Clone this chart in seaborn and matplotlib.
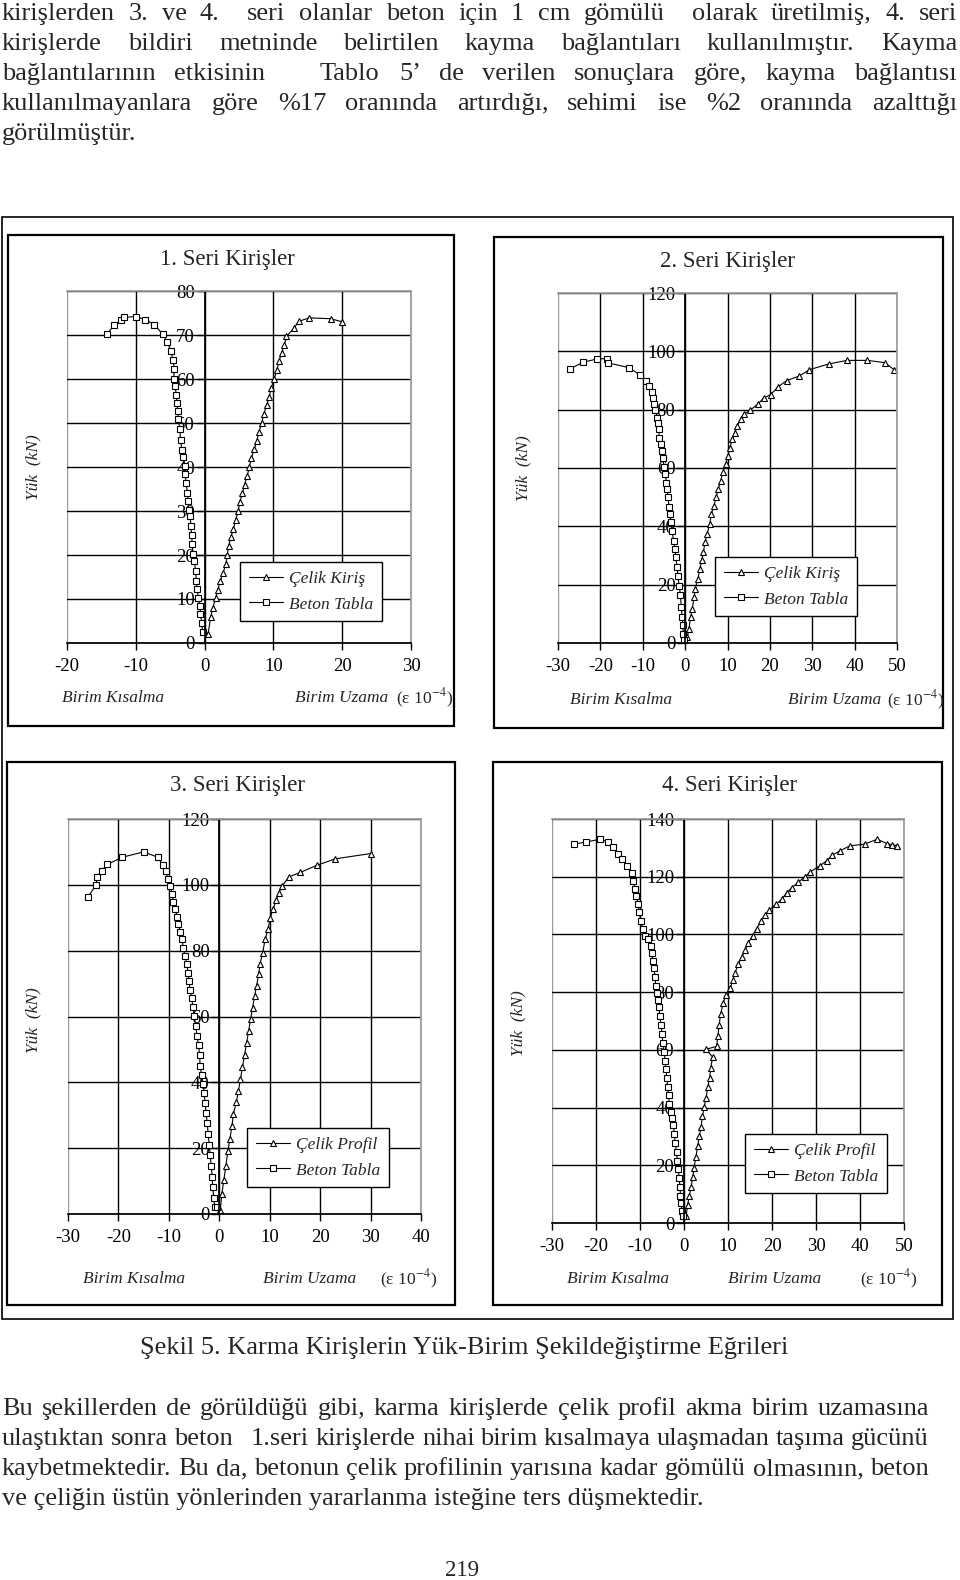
import matplotlib
matplotlib.use("Agg")
import matplotlib.pyplot as plt
import seaborn as sns
from matplotlib.patches import Rectangle

# ── Data (strain x 1e-4, load kN) ─────────────────────────────────────────
p1_celik_x = [0.5, 0.9, 1.2, 1.6, 1.9, 2.3, 2.7, 3.1, 3.3, 3.5, 3.8, 4.2, 4.5, 4.9, 5.1, 5.5, 5.8, 6.2, 6.5,
              6.8, 7.2, 7.6, 7.9, 8.3, 8.6, 9.0, 9.4, 9.7, 10.1, 10.5, 10.8, 11.2, 11.6, 11.9, 13.0,
              13.7, 15.2, 18.3, 20.0]
p1_celik_y = [2, 6, 8, 10.2, 12, 14.2, 16, 18, 20, 22, 24, 26, 28, 30, 32, 34, 36, 38, 40, 42, 44, 46, 48,
              50, 52, 54, 56, 58, 60, 62, 64, 66, 67.8, 69.7, 71.6, 73.1, 73.9, 73.7, 73.0]
p1_beton_x = [-14.2, -13.1, -12.2, -11.7, -10.0, -8.6, -7.3, -6.1, -5.4, -4.9, -4.6, -4.4, -4.5, -4.3,
              -4.1, -4.0, -3.9, -3.8, -3.6, -3.5, -3.3, -3.1, -2.9, -2.8, -2.7, -2.5, -2.4, -2.3, -2.1,
              -2.0, -1.9, -1.8, -1.7, -1.5, -1.3, -1.2, -1.1, -0.9, -0.7, -0.6, -0.4, -0.3]
p1_beton_y = [70.2, 72.3, 73.3, 74.0, 74.2, 73.5, 72.3, 70.2, 68.3, 66.4, 64.4, 62.3, 60.0, 58.3, 56.4,
              54.5, 52.7, 50.8, 48.6, 46.2, 43.9, 42.3, 40.2, 38.3, 36.4, 34.2, 32.2, 30.3, 28.8, 26.7,
              24.6, 22.6, 20.2, 18.6, 16.3, 14.2, 12.3, 10.2, 8.3, 6.6, 4.5, 2.4]

p2_celik_x = [0.5, 0.9, 1.3, 1.7, 2.1, 2.4, 3.0, 3.5, 3.9, 4.3, 4.7, 5.2, 5.8, 6.2, 6.8, 7.3, 7.8, 8.4,
              8.9, 9.6, 10.1, 10.6, 11.1, 11.7, 12.3, 13.1, 13.9, 15.3, 17.1, 18.5, 20.2, 22.0, 24.0,
              26.9, 29.3, 34.0, 38.2, 43.0, 47.2, 49.3]
p2_celik_y = [2, 4.9, 8.9, 11.7, 15.7, 18.6, 22, 25.4, 28.3, 31.1, 34.5, 37.4, 40.8, 44.2, 47.1, 49.9,
              52.8, 55.6, 58.5, 61.5, 64.2, 67, 69.9, 72.1, 74.4, 76.7, 78.4, 79.8, 81.8, 83.9, 85.2,
              87.9, 90, 91.5, 93.7, 95.7, 96.9, 96.9, 96.1, 93.7]
p2_beton_x = [-27.2, -24.0, -20.7, -18.5, -18.1, -13.2, -10.6, -9.2, -8.5, -7.9, -7.6, -7.3, -7.0, -6.6,
              -6.5, -6.2, -6.1, -5.8, -5.5, -5.3, -4.9, -4.7, -4.4, -4.3, -4.0, -3.8, -3.6, -3.3, -3.1,
              -2.7, -2.4, -2.2, -1.9, -1.7, -1.4, -1.1, -0.9, -0.7, -0.6, -0.4, -0.2]
p2_beton_y = [94.0, 96.3, 97.4, 97.5, 96.0, 94.4, 91.8, 90.0, 88.0, 86.2, 84.1, 81.8, 79.8, 77.3, 75.6,
              73.3, 70.4, 68.1, 65.9, 63.4, 60.2, 57.9, 55.0, 52.8, 49.9, 46.7, 44.2, 41.4, 38.5, 35.1,
              32.3, 29.4, 26.0, 22.8, 19.7, 16.3, 12.3, 8.9, 6.0, 3.2, 1.1]

p3_celik_x = [0.2, 0.5, 0.9, 1.3, 1.7, 2.1, 2.5, 2.8, 3.4, 3.8, 4.2, 4.6, 5.0, 5.4, 5.8, 6.2, 6.6, 7.0,
              7.4, 7.8, 8.1, 8.6, 9.1, 9.7, 10.1, 10.7, 11.3, 11.8, 12.5, 13.8, 16.1, 19.3, 23.0, 30.0]
p3_celik_y = [1.3, 6, 10.3, 14.6, 19, 22.8, 26.6, 30.4, 34.1, 37.4, 41, 44.7, 48.2, 51.8, 55.5, 59.1,
              62.7, 66.1, 69.4, 72.8, 76.1, 79.4, 83.5, 86.7, 90, 92.7, 95.4, 97.6, 99.7, 102.4, 103.8,
              105.9, 107.9, 109.5]
p3_beton_x = [-26.1, -24.4, -24.3, -23.3, -22.2, -19.2, -15.0, -12.2, -11.2, -10.6, -10.2, -9.7, -9.4,
              -9.1, -8.7, -8.4, -8.1, -7.7, -7.4, -7.1, -6.8, -6.4, -6.2, -6.0, -5.8, -5.5, -5.2, -5.0,
              -4.7, -4.4, -4.1, -3.9, -3.8, -3.5, -3.2, -3.0, -2.8, -2.6, -2.4, -2.2, -2.0, -1.8, -1.6,
              -1.4, -1.3, -1.1, -0.9, -0.5]
p3_beton_y = [96.2, 100, 102.4, 104.3, 106.2, 108.4, 110, 108.4, 106, 104.1, 101.9, 99.7, 97.3, 94.9,
              92.7, 90.3, 88, 85.6, 83.5, 80.8, 78.3, 75.9, 73.2, 70.7, 68.1, 65.6, 62.9, 60.2, 57.2,
              54.2, 51.2, 48.2, 45, 42.3, 39.6, 36.9, 33.6, 30.6, 27.6, 24.4, 21.1, 17.9, 14.6, 11.1,
              8.1, 4.9, 2.2, 2]

p4_celik_x = [0.5, 0.8, 1.2, 1.6, 2.0, 2.3, 2.7, 3.1, 3.5, 3.9, 4.2, 4.6, 5.0, 5.4, 5.8, 6.1, 6.5, 5.0,
              7.4, 7.7, 8.0, 8.3, 8.9, 9.5, 10.5, 11.1, 11.6, 12.3, 13.1, 13.9, 14.6, 15.6, 16.5, 17.4,
              18.4, 19.4, 20.9, 22.2, 23.3, 24.5, 26.0, 27.5, 28.6, 30.8, 32.4, 33.6, 35.5, 37.7, 41.1,
              43.9, 46.1, 47.2, 48.3]
p4_celik_y = [2.5, 6.2, 9.3, 12.4, 16.1, 19.2, 22.9, 26.6, 30.3, 33.4, 37.1, 40.2, 43.3, 47, 50.1, 53.8,
              57.5, 60.2, 61.2, 64.9, 68.6, 72.3, 76.1, 79.1, 81.3, 84.1, 86.6, 89.7, 92.1, 94.6, 97.1,
              99.6, 102, 104.5, 106.7, 108.6, 110.4, 112.2, 114.4, 116.2, 118.1, 120, 121.6, 123.7,
              125.5, 127.4, 129, 130.7, 131.3, 133, 131.5, 131.1, 130.8]
p4_beton_x = [-25.0, -22.3, -19.1, -17.2, -16.1, -15.1, -14.0, -12.9, -11.9, -11.5, -11.1, -10.8, -10.4,
              -10.2, -9.8, -9.4, -8.9, -8.1, -7.6, -7.3, -7.1, -6.8, -6.6, -6.4, -6.2, -5.8, -5.7, -5.5,
              -5.2, -5.0, -4.8, -4.5, -4.3, -4.1, -3.9, -3.7, -3.5, -3.3, -3.0, -2.7, -2.4, -2.2, -2.0,
              -1.7, -1.5, -1.3, -1.1, -0.9, -0.8, -0.6, -0.5, -0.3]
p4_beton_y = [131.3, 132, 133, 132, 130.2, 128, 126.1, 123.7, 121.2, 118.4, 115.6, 113.2, 110.4, 107.6,
              104.7, 102, 99.6, 98.3, 96.1, 93.6, 90.9, 88.2, 85.3, 82.2, 79.8, 77.3, 74.8, 71.7, 68.6,
              65.5, 62.5, 59.4, 56.3, 53.2, 50.1, 47, 44.2, 41.2, 38.3, 36.5, 34, 30.9, 27.8, 24.7, 21.6,
              18.6, 15.5, 12.4, 9.3, 6.8, 4.3, 2.5]

titles = ["1. Seri Kirişler", "2. Seri Kirişler", "3. Seri Kirişler", "4. Seri Kirişler"]
celik_labels = ["Çelik Kiriş", "Çelik Kiriş", "Çelik Profil", "Çelik Profil"]
beton_label = "Beton Tabla"
x_limits = [(-20, 30), (-30, 50), (-30, 40), (-30, 50)]
y_limits = [(0, 80), (0, 120), (0, 120), (0, 140)]
y_steps = [10, 20, 20, 20]

top_lines = [
    "kirişlerden 3. ve 4.  seri olanlar beton için 1 cm gömülü  olarak üretilmiş, 4. seri",
    "kirişlerde bildiri metninde belirtilen kayma bağlantıları kullanılmıştır. Kayma",
    "bağlantılarının etkisinin   Tablo 5’ de verilen sonuçlara göre, kayma bağlantısı",
    "kullanılmayanlara göre %17 oranında artırdığı, sehimi ise %2 oranında azalttığı",
    "görülmüştür.",
]
bottom_lines = [
    "Bu şekillerden de görüldüğü gibi, karma kirişlerde çelik profil akma birim uzamasına",
    "ulaştıktan sonra beton   1.seri kirişlerde nihai birim kısalmaya ulaşmadan taşıma gücünü",
    "kaybetmektedir. Bu da, betonun çelik profilinin yarısına kadar gömülü olmasının, beton",
    "ve çeliğin üstün yönlerinden yararlanma isteğine ters düşmektedir.",
]
caption = "Şekil 5. Karma Kirişlerin Yük-Birim Şekildeğiştirme Eğrileri"
page_no = "219"

# ── Page setup ─────────────────────────────────────────────────────────────
sns.set_theme(style="ticks")
plt.rcParams["font.family"] = ["Liberation Serif", "DejaVu Serif"]
plt.rcParams["mathtext.fontset"] = "stix"
plt.rcParams["axes.unicode_minus"] = False

W, H = 960, 1580
fig = plt.figure(figsize=(W / 100, H / 100), dpi=100)
fig.patch.set_facecolor("white")
renderer = fig.canvas.get_renderer()
BODY = 19


def fx(x):
    return x / W


def fy(y):
    return 1 - y / H


def box(x0, y0, x1, y1, lw):
    fig.add_artist(Rectangle((fx(x0), fy(y1)), (x1 - x0) / W, (y1 - y0) / H,
                             transform=fig.transFigure, fill=False, ec="black", lw=lw))


def para_line(line, x0, x1, base, size, justify):
    # one printed line; justified lines get their words spread to the right margin
    if not justify:
        fig.text(fx(x0), fy(base), line, fontsize=size, va="baseline", ha="left")
        return
    words = line.split(" ")
    widths = []
    arts = []
    for w in words:
        if w:
            t = fig.text(0, fy(base), w, fontsize=size, va="baseline", ha="left")
            widths.append(t.get_window_extent(renderer).width)
            arts.append(t)
        else:
            widths.append(0)
            arts.append(None)
    gap = (x1 - x0 - sum(widths)) / (len(words) - 1)
    x = x0
    for t, wd in zip(arts, widths):
        if t is not None:
            t.set_x(fx(round(x)))
        x += wd + gap


# ── Body text ─────────────────────────────────────────────────────────────
for i, line in enumerate(top_lines):
    para_line(line, 2, 957, 20 + 30 * i, BODY, i < len(top_lines) - 1)
for i, line in enumerate(bottom_lines):
    para_line(line, 2, 929, 1415 + 30 * i, BODY, i < len(bottom_lines) - 1)
fig.text(fx(464), fy(1354), caption, fontsize=BODY, ha="center", va="baseline")
fig.text(fx(462), fy(1576), page_no, fontsize=16.5, ha="center", va="baseline")

# ── Frames ────────────────────────────────────────────────────────────────
box(2, 217, 953, 1319, 1.2)
panel_boxes = [(8, 235, 454, 726), (494, 237, 943, 728), (7, 762, 455, 1305), (493, 762, 942, 1305)]
for b in panel_boxes:
    box(*b, 1.6)

# ── Panels ────────────────────────────────────────────────────────────────
areas = [(67, 291, 411, 643), (558, 293, 897, 643), (68, 819, 421, 1214), (552, 819, 904, 1223)]
title_pos = [(227, 260), (728, 262), (237, 786), (730, 786)]
ylab_pos = [(33, 467), (523, 468), (33, 1020), (518, 1023)]
kisalma_pos = [(113, 698), (621, 700), (134, 1279), (618, 1279)]
uzama_pos = [(295, 698), (788, 700), (263, 1279), (728, 1279)]
eps_pos = [(396, 698), (887, 700), (380, 1279), (860, 1279)]
legend_pos = [(240, 562), (715, 557), (247, 1128), (745, 1134)]
series = [(p1_celik_x, p1_celik_y, p1_beton_x, p1_beton_y),
          (p2_celik_x, p2_celik_y, p2_beton_x, p2_beton_y),
          (p3_celik_x, p3_celik_y, p3_beton_x, p3_beton_y),
          (p4_celik_x, p4_celik_y, p4_beton_x, p4_beton_y)]

for k in range(4):
    x0, y0, x1, y1 = areas[k]
    ax = fig.add_axes([fx(x0), fy(y1), (x1 - x0) / W, (y1 - y0) / H])
    ax.set_facecolor("white")
    cx, cy, bx, by = series[k]
    mk = dict(color="black", linewidth=0.8, markersize=5, markerfacecolor="white",
              markeredgecolor="black", markeredgewidth=0.8, clip_on=False)
    sns.lineplot(x=cx, y=cy, sort=False, estimator=None, marker="^", label=celik_labels[k], ax=ax, **mk)
    sns.lineplot(x=bx, y=by, sort=False, estimator=None, marker="s", label=beton_label, ax=ax, **mk)

    xmin, xmax = x_limits[k]
    ymin, ymax = y_limits[k]
    ax.set_xlim(xmin, xmax)
    ax.set_ylim(ymin, ymax)
    ax.set_xticks(range(xmin, xmax + 1, 10))
    ax.set_yticks(range(ymin, ymax + 1, y_steps[k]))
    ax.set_xlabel("")
    ax.set_ylabel("")
    ax.grid(True, color="black", linewidth=1.0)
    ax.set_axisbelow(True)
    for gl in (ax.xaxis.get_gridlines()[0], ax.xaxis.get_gridlines()[-1], ax.yaxis.get_gridlines()[-1]):
        gl.set_color("#9a9a9a")
    ax.spines["left"].set_position(("data", 0))
    ax.spines["left"].set_color("black")
    ax.spines["bottom"].set_color("black")
    for s in ("top", "right"):
        ax.spines[s].set_visible(True)
        ax.spines[s].set_color("#9a9a9a")
    ax.tick_params(axis="x", direction="out", length=5, width=1, pad=6, labelsize=13.5, colors="black")
    ax.tick_params(axis="y", direction="out", length=6, width=1, pad=1, labelsize=13.5, colors="black")

    leg = ax.legend(loc="upper left", bbox_to_anchor=(fx(legend_pos[k][0]), fy(legend_pos[k][1])),
                    bbox_transform=fig.transFigure, frameon=True, fancybox=False, framealpha=1,
                    edgecolor="black", borderaxespad=0, borderpad=0.5, handlelength=2.0,
                    handletextpad=0.3, labelspacing=0.55,
                    prop={"family": ["Liberation Serif"], "style": "italic", "size": 12.5})
    leg.get_frame().set_linewidth(1.0)

    fig.text(fx(title_pos[k][0]), fy(title_pos[k][1]), titles[k], fontsize=16.5, ha="center", va="center")
    fig.text(fx(ylab_pos[k][0]), fy(ylab_pos[k][1]), "Yük  (kN)", fontsize=12.5, style="italic",
             rotation=90, ha="center", va="center")
    fig.text(fx(kisalma_pos[k][0]), fy(kisalma_pos[k][1]), "Birim Kısalma", fontsize=12.5,
             style="italic", ha="center", va="center")
    fig.text(fx(uzama_pos[k][0]), fy(uzama_pos[k][1]), "Birim Uzama", fontsize=12.5,
             style="italic", ha="left", va="center")
    fig.text(fx(eps_pos[k][0]), fy(eps_pos[k][1]), "(ε 10$^{-4}$)", fontsize=12.5,
             ha="left", va="center")

fig.savefig("out.png", dpi=100, facecolor="white")
